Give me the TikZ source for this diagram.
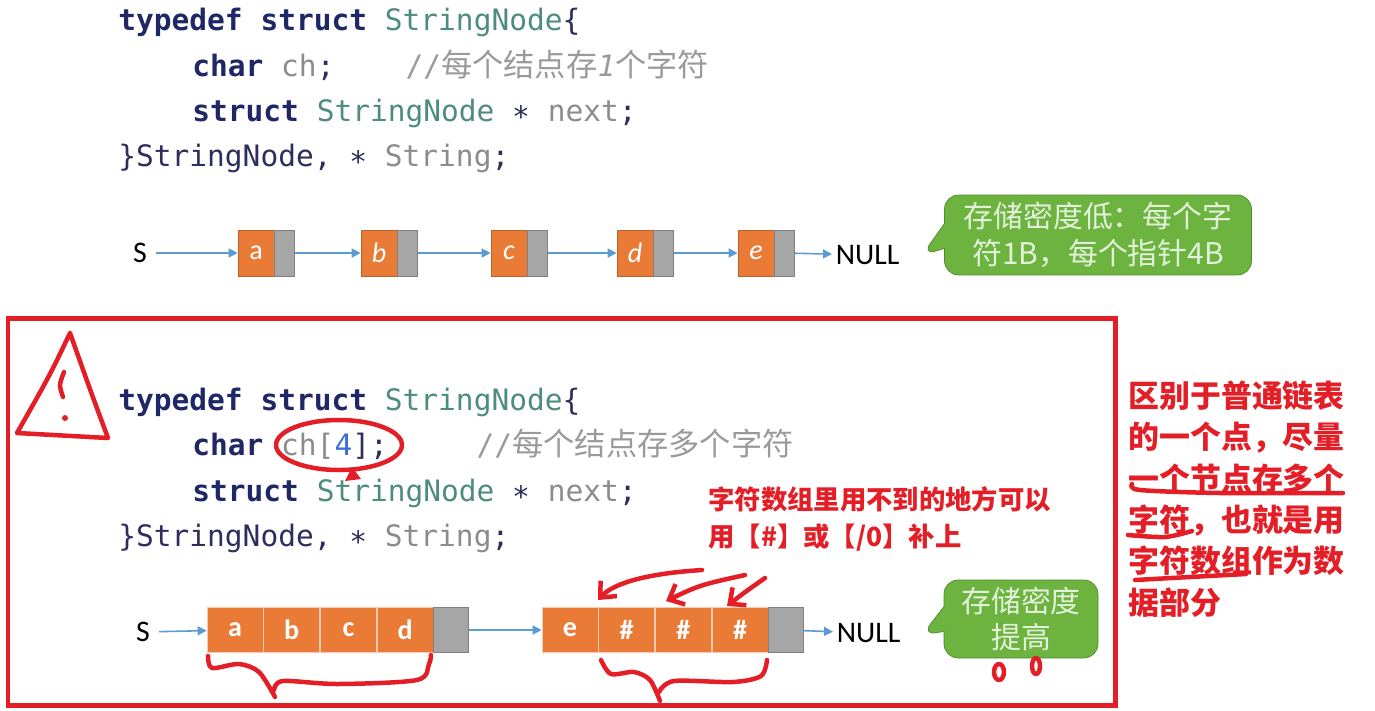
\documentclass[tikz,border=0pt]{standalone}
\usepackage{fontspec}
\setmainfont{Carlito}
\setmonofont{DejaVu Sans Mono}
\newfontfamily\cjk{Noto Sans CJK SC}
\usetikzlibrary{shapes.callouts,arrows.meta}
\definecolor{kwc}{HTML}{1F2766}
\definecolor{tyc}{HTML}{4E8C7E}
\definecolor{idc}{HTML}{8C8C8C}
\definecolor{cmc}{HTML}{9A9A9A}
\definecolor{brc}{HTML}{2E2E5E}
\definecolor{numc}{HTML}{3A6FD8}
\definecolor{cellc}{HTML}{E97B36}
\definecolor{ptrc}{HTML}{A6A6A6}
\definecolor{linkc}{HTML}{5B9BD5}
\definecolor{tipc}{HTML}{6DB33F}
\definecolor{tipd}{HTML}{4F8A2B}
\definecolor{tipt}{HTML}{E4F1DA}
\definecolor{penc}{HTML}{E41E26}
\newcommand\kw[1]{{\bfseries\color{kwc}#1}}
\newcommand\tyn[1]{{\color{tyc}#1}}
\newcommand\idf[1]{{\color{idc}#1}}
\newcommand\cmt[1]{{\color{cmc}#1}}
\newcommand\dk[1]{{\color{brc}#1}}
\newcommand\zh[1]{{\cjk\fontsize{17.8}{22}\selectfont #1}}
\begin{document}
\begin{tikzpicture}[x=0.02cm,y=-0.02cm]
  \tikzset{code/.style={anchor=base west,inner sep=0pt,font=\ttfamily\fontsize{16.8}{20}\selectfont},
    lbl/.style={inner sep=5pt,font=\fontsize{17}{20}\selectfont},
    tcell/.style={draw=cellc!80!black,fill=cellc,text=white,minimum width=0.72cm,minimum height=0.92cm,inner sep=0pt,font=\fontsize{16}{18}\selectfont},
    tptr/.style={draw=gray,fill=ptrc,minimum width=0.4cm,minimum height=0.92cm,inner sep=0pt},
    cell/.style={draw=cellc!40!white,fill=cellc,text=white,minimum width=1.12cm,minimum height=0.9cm,inner sep=0pt,font=\fontsize{16}{18}\selectfont\bfseries},
    ptr/.style={draw=gray,fill=ptrc,minimum width=0.7cm,minimum height=0.9cm,inner sep=0pt},
    link/.style={draw=linkc,line width=0.9pt,-{Triangle[length=1.8mm,width=1.8mm]}},
    tip/.style={rectangle callout,draw=tipd,fill=tipc,text=tipt,rounded corners=8pt,callout pointer width=0.5cm,align=center,inner sep=2pt,font=\cjk\fontsize{17}{21}\selectfont},
    pen/.style={draw=penc,line width=0.09cm,line cap=round,line join=round},
    note/.style={text=penc,align=left,inner sep=0pt,font=\cjk\bfseries\fontsize{15}{21.5}\selectfont}}
  \useasboundingbox (0,0) rectangle (1375,710);
  % first struct
  \node[code] (l1) at (118,31) {\kw{typedef} \kw{struct} \tyn{StringNode}\dk{\{}};
  \node[code] (l2) at (192,76) {\kw{char} \idf{ch}\dk{;}\ \ \ \ \cmt{//\zh{每个结点存}\textit{1}\zh{个字符}}};
  \node[code] (l3) at (192,121) {\kw{struct} \tyn{StringNode} \dk{∗} \idf{next}\dk{;}};
  \node[code] (l4) at (118,166) {\dk{\}StringNode,} \dk{∗} \idf{String}\dk{;}};
  % one char per node
  \node[lbl] (s1) at (140,253) {S};
  \node[tcell] (a) at (256,253) {a};
  \node[tptr,anchor=west] (pa) at (a.east) {};
  \node[tcell] (b) at (379,253) {\itshape b};
  \node[tptr,anchor=west] (pb) at (b.east) {};
  \node[tcell] (c) at (509,253) {\itshape c};
  \node[tptr,anchor=west] (pc) at (c.east) {};
  \node[tcell] (d) at (635,253) {\itshape d};
  \node[tptr,anchor=west] (pd) at (d.east) {};
  \node[tcell] (e) at (756,253) {\itshape e};
  \node[tptr,anchor=west] (pe) at (e.east) {};
  \node[lbl,anchor=west,inner sep=2pt] (n1) at (832,255) {NULL};
  \draw[link] (s1) -- (a);
  \draw[link] (pa) -- (b);
  \draw[link] (pb) -- (c);
  \draw[link] (pc) -- (d);
  \draw[link] (pd) -- (e);
  \draw[link] (pe) -- (n1);
  \node[tip,minimum width=6.14cm,minimum height=1.6cm,callout absolute pointer={(922,255)}] (t1) at (1098,235) {存储密度低：每个字\\符1B，每个指针4B};
  % red frame
  \draw[draw=penc,line width=0.1cm] (8,318) rectangle (1115,705);
  \draw[pen] (70,333) .. controls (50,375) .. (17,433) -- (108,438) .. controls (92,395) .. (70,333);
  \draw[pen] (64,372) .. controls (59,385) .. (63,397);
  \fill[penc] (65,418) circle (3);
  % second struct
  \node[code] (m1) at (118,410) {\kw{typedef} \kw{struct} \tyn{StringNode}\dk{\{}};
  \node[code] (m2) at (192,455) {\kw{char} \idf{ch[}{\color{numc}4}\dk{];}\ \ \ \ \ \cmt{//\zh{每个结点存多个字符}}};
  \node[code] (m3) at (192,501) {\kw{struct} \tyn{StringNode} \dk{∗} \idf{next}\dk{;}};
  \node[code] (m4) at (118,546) {\dk{\}StringNode,} \dk{∗} \idf{String}\dk{;}};
  \draw[pen] (339,445) ellipse [x radius=63, y radius=25];
  \fill[penc] (345,481) -- (352,467) -- (361,479) -- cycle;
  % many chars per node
  \node[lbl] (s2) at (143,632) {S};
  \node[cell] (c1) at (235,630) {a};
  \node[cell,anchor=west] (c2) at (c1.east) {b};
  \node[cell,anchor=west] (c3) at (c2.east) {c};
  \node[cell,anchor=west] (c4) at (c3.east) {d};
  \node[ptr,anchor=west] (p1) at (c4.east) {};
  \node[cell] (c5) at (570,630) {e};
  \node[cell,anchor=west] (c6) at (c5.east) {\#};
  \node[cell,anchor=west] (c7) at (c6.east) {\#};
  \node[cell,anchor=west] (c8) at (c7.east) {\#};
  \node[ptr,anchor=west] (p2) at (c8.east) {};
  \node[lbl,anchor=west,inner sep=2pt] (n2) at (833,633) {NULL};
  \draw[link] (s2) -- (c1);
  \draw[link] (p1) -- (c5);
  \draw[link] (p2) -- (n2);
  \node[tip,minimum width=3.08cm,minimum height=1.56cm,callout absolute pointer={(922,635)}] (t2) at (1021,619) {存储密度\\提高};
  % hand notes
  \node[note,anchor=west] (nt) at (708,519) {字符数组里用不到的地方可以\\用【\#】或【/0】补上};
  \draw[pen,-{Straight Barb[length=0.25cm,width=0.45cm]}] (702,570) .. controls (640,574) and (612,585) .. (598,600);
  \draw[pen,-{Straight Barb[length=0.25cm,width=0.45cm]}] (745,575) .. controls (700,585) .. (666,601);
  \draw[pen,-{Straight Barb[length=0.25cm,width=0.45cm]}] (765,578) .. controls (745,592) .. (727,606);
  \draw[pen] plot[smooth] coordinates {(208,656) (212,668) (239,664) (259,672) (275,697)};
  \draw[pen] plot[smooth] coordinates {(274,690) (283,681) (338,684) (417,680) (429,664) (431,655)};
  \draw[pen] plot[smooth] coordinates {(601,660) (611,674) (634,672) (650,680) (660,701)};
  \draw[pen] plot[smooth] coordinates {(659,692) (674,681) (733,682) (761,676) (767,660)};
  \draw[pen] (999,672) ellipse [x radius=5, y radius=8];
  \draw[pen] (1036,666) ellipse [x radius=4, y radius=8];
  % side note
  \node[note,anchor=west,font=\cjk\bfseries\fontsize{17.6}{23.6}\selectfont] (sd) at (1128,499) {区别于普通链表\\的一个点，尽量\\一个节点存多个\\字符，也就是用\\字符数组作为数\\据部分};
  \draw[pen] plot[smooth] coordinates {(1132,484) (1140,490) (1220,493) (1343,493)};
  \draw[pen] plot[smooth] coordinates {(1128,535) (1165,537) (1192,531)};
  \draw[pen] plot[smooth] coordinates {(1135,580) (1190,577) (1246,574)};
\end{tikzpicture}
\end{document}
